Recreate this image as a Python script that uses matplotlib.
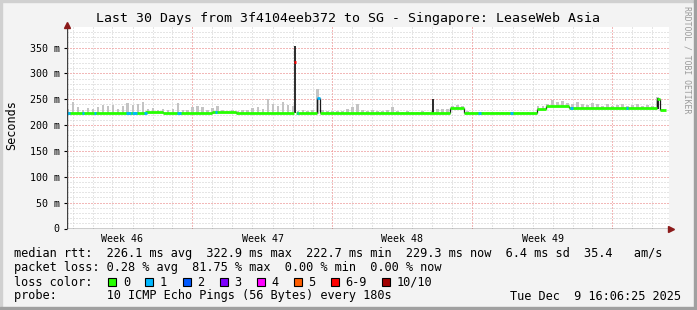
import numpy as np
import matplotlib
matplotlib.use("Agg")
import matplotlib.pyplot as plt
from matplotlib.patches import Rectangle

# ---- data (x in days since start of the 30 day window, y in ms) ----
# median rtt, piecewise levels: segment start day and level
seg_start = [0.0, 3.9, 4.8, 7.3, 8.5, 11.39, 11.48, 12.52, 12.68,
             19.2, 19.9, 23.5, 24.0, 25.1, 29.55, 29.68]
seg_ms = [222.5, 225.5, 223.0, 226.0, 223.0, 322.9, 223.0, 252.0, 223.5,
          233.0, 223.5, 232.0, 237.0, 232.5, 251.0, 229.3]
seg_loss = [0, 0, 0, 0, 0, 8, 0, 1, 0, 0, 0, 0, 0, 0, 0, 0]
win_end = 30.0

# single lost pings shown on the median line (start day, length)
loss1_day = [0.0, 0.75, 1.35, 2.95, 3.25, 3.85, 5.55, 7.45, 11.5, 20.6, 22.2, 25.2, 28.0]
loss1_len = [0.15, 0.1, 0.12, 0.25, 0.25, 0.15, 0.15, 0.1, 0.1, 0.1, 0.1, 0.1, 0.1]

# dark smoke (few samples) spikes: day, low, high
spike_day = [11.43, 18.35, 29.56]
spike_lo = [224, 223, 231]
spike_hi = [352, 250, 252]

# light smoke tops, every quarter day
smoke_top = [232, 245, 234, 230, 233, 232, 234, 238, 236, 238, 231, 237,
             242, 239, 241, 245, 231, 233, 230, 232, 230, 232, 242, 230,
             229, 235, 236, 234, 229, 233, 237, 229, 228, 229, 228, 229,
             230, 233, 234, 232, 251, 240, 236, 244, 238, 236, 228, 229,
             228, 230, 269, 230, 228, 227, 228, 227, 232, 235, 240, 230,
             228, 229, 228, 228, 230, 235, 227, 226, 227, 226, 226, 227,
             226, 228, 231, 232, 231, 237, 238, 236, 227, 226, 226, 225,
             226, 226, 225, 226, 225, 226, 226, 225, 226, 226, 236, 237,
             240, 248, 244, 247, 242, 240, 244, 241, 239, 243, 240, 237,
             240, 236, 238, 240, 236, 239, 241, 237, 238, 236, 254, 231]
smoke_day = np.arange(len(smoke_top)) * 0.25

week_pos = [2.8, 9.8, 16.8, 23.8]
week_lab = ["Week 46", "Week 47", "Week 48", "Week 49"]
week_lines = [6.3, 13.3, 20.3, 27.3]

loss_colors = ["#26ff00", "#00b8ff", "#0059ff", "#7e00ff", "#ff00ff",
               "#ff5e00", "#ff0000", "#a10000"]
loss_names = ["0", "1", "2", "3", "4", "5", "6-9", "10/10"]


def loss_color(n):
    if n >= 10:
        return loss_colors[7]
    if n >= 6:
        return loss_colors[6]
    return loss_colors[n]


def median_at(days):
    idx = np.searchsorted(seg_start, days, side="right") - 1
    return np.array(seg_ms)[idx]


W, H = 697, 310
fig = plt.figure(figsize=(W / 100, H / 100), dpi=100, facecolor="#f3f3f3")
# frame of the rrd canvas
fig.patches.append(Rectangle((0, 1 - 2 / H), 1, 2 / H, transform=fig.transFigure, color="#d0d0d0"))
fig.patches.append(Rectangle((0, 0), 2 / W, 1, transform=fig.transFigure, color="#d0d0d0"))
fig.patches.append(Rectangle((0, 0), 1, 3 / H, transform=fig.transFigure, color="#a0a0a0"))
fig.patches.append(Rectangle((1 - 3 / W, 0), 3 / W, 1, transform=fig.transFigure, color="#a0a0a0"))

px_l, px_r, px_t, px_b = 66.5, 668.5, 27.0, 228.5
ax = fig.add_axes([px_l / W, 1 - px_b / H, (px_r - px_l) / W, (px_b - px_t) / H])
ax.set_facecolor("white")
xmax = 30.1
ymax = (px_b - px_t) / 0.5171
ax.set_xlim(0, xmax)
ax.set_ylim(0, ymax)

# grid
dot = (0, (1, 2))
for d in np.arange(0.3, xmax, 1.0):
    ax.axvline(d, color="#cdcdcd", lw=0.72, ls=dot, zorder=0)
for v in np.arange(10, ymax, 10):
    ax.axhline(v, color="#cdcdcd", lw=0.72, ls=dot, zorder=0)
for v in range(50, 400, 50):
    ax.axhline(v, color="#ff8c8c", lw=0.72, ls=dot, zorder=0.5)
for d in week_lines:
    ax.axvline(d, color="#ff8c8c", lw=0.72, ls=dot, zorder=0.5)

# light smoke
seg_end = seg_start[1:] + [win_end]
med_s = median_at(smoke_day)
ax.bar(smoke_day, np.array(smoke_top) - med_s + 2, bottom=med_s - 2,
       width=0.12, align="edge", color="#c4c4c4", lw=0, zorder=1)

# dark smoke spikes
ax.vlines(spike_day, spike_lo, spike_hi, color="#1a1a1a", lw=1.3, zorder=2)

# median line, coloured by loss
for s, e, v, n in zip(seg_start, seg_end, seg_ms, seg_loss):
    ax.hlines(v, s, e, color=loss_color(n), lw=2.0, zorder=3)
# transitions between levels
for i in range(1, len(seg_ms)):
    if seg_loss[i] >= 6 or seg_loss[i - 1] >= 6:
        continue
    ax.vlines(seg_start[i], min(seg_ms[i - 1], seg_ms[i]), max(seg_ms[i - 1], seg_ms[i]),
              color="#1a1a1a", lw=0.9, zorder=2.5)
l1_y = median_at(np.array(loss1_day) + 0.01)
ax.hlines(l1_y, loss1_day, np.array(loss1_day) + np.array(loss1_len),
          color=loss_colors[1], lw=2.0, zorder=4)

# axes
for sp in ax.spines.values():
    sp.set_visible(False)
ax.axhline(0, color="black", lw=1.0, zorder=5)
ax.axvline(0, color="#404040", lw=1.0, zorder=5)
ax.plot([xmax + 0.15], [0], marker=">", ms=5, color="#8b1a1a", clip_on=False, zorder=6)
ax.plot([0], [ymax + 4], marker="^", ms=5, color="#8b1a1a", clip_on=False, zorder=6)

mono = "DejaVu Sans Mono"
ax.set_yticks(range(0, 400, 50))
ax.set_yticklabels(["0"] + ["%d m" % v for v in range(50, 400, 50)], family=mono, fontsize=7.2)
ax.tick_params(axis="y", length=2, width=0.8, pad=3)
ax.set_xticks(week_pos)
ax.set_xticklabels(week_lab, family=mono, fontsize=7.2)
ax.tick_params(axis="x", length=0, pad=4)

fig.text(12 / W, 1 - 125 / H, "Seconds", family=mono, fontsize=8.5, rotation=90,
         ha="center", va="center")
fig.text(347.5 / W, 1 - 18.5 / H, "Last 30 Days from 3f4104eeb372 to SG - Singapore: LeaseWeb Asia",
         family=mono, fontsize=9.5, ha="center", va="center")
fig.text(687.5 / W, 1 - 60 / H, "RRDTOOL / TOBI OETIKER", family=mono, fontsize=5.9,
         rotation=-90, ha="center", va="center", color="#9a9a9a")

lx = 14.5 / W
lines = [
    (254, "median rtt:  226.1 ms avg  322.9 ms max  222.7 ms min  229.3 ms now  6.4 ms sd  35.4   am/s"),
    (268, "packet loss: 0.28 % avg  81.75 % max  0.00 % min  0.00 % now"),
    (282, "loss color:"),
    (296, "probe:       10 ICMP Echo Pings (56 Bytes) every 180s"),
]
for y, t in lines:
    fig.text(lx, 1 - y / H, t, family=mono, fontsize=8.55, ha="left", va="center")
fig.text(681 / W, 1 - 296 / H, "Tue Dec  9 16:06:25 2025", family=mono, fontsize=8.55,
         ha="right", va="center")

box_x = [108.3, 145.3, 182.7, 220.0, 256.7, 294.0, 331.0, 381.7]
for bx, c, name in zip(box_x, loss_colors, loss_names):
    fig.patches.append(Rectangle((bx / W, 1 - 286 / H), 8 / W, 8 / H, transform=fig.transFigure,
                                 facecolor=c, edgecolor="black", lw=0.8))
    fig.text((bx + 14.5) / W, 1 - 282 / H, name, family=mono, fontsize=8.55, ha="left", va="center")

fig.savefig("out.png", dpi=100, facecolor=fig.get_facecolor())
